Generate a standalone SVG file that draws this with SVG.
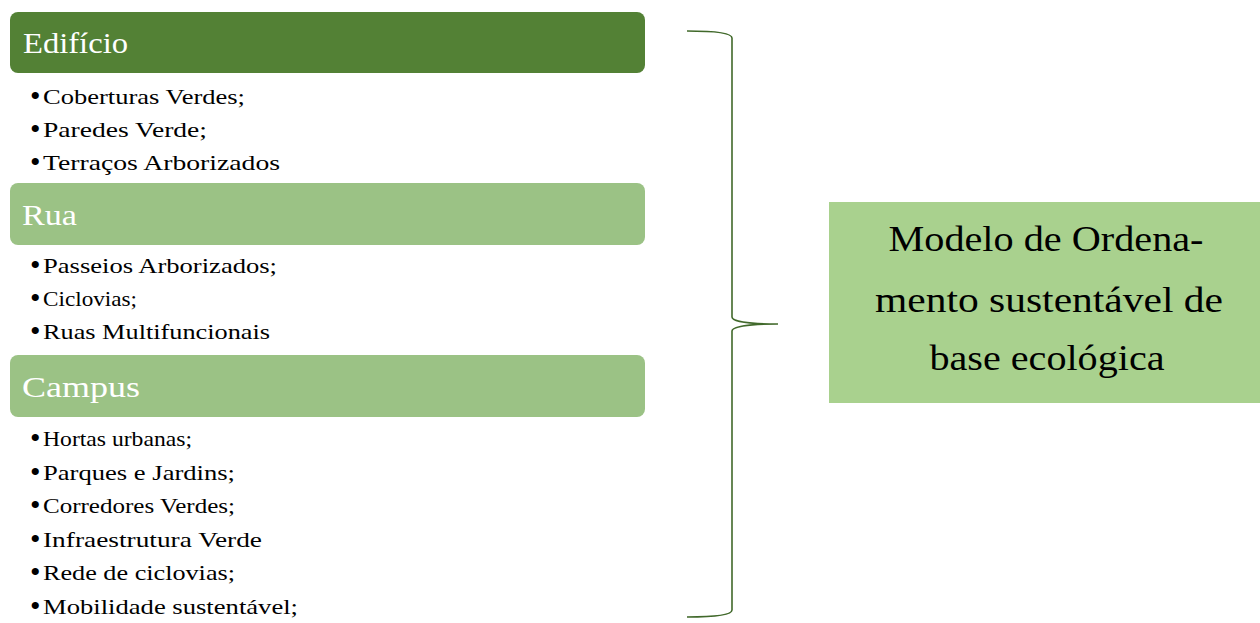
<svg xmlns="http://www.w3.org/2000/svg" width="1260" height="623" viewBox="0 0 1260 623">
<style>
.hdr{font-family:"Liberation Serif",serif;font-size:29px;fill:#ffffff}
.it{font-family:"Liberation Serif",serif;font-size:22px;fill:#000000}
.bl{font-family:"Liberation Serif",serif;font-size:30px;fill:#000000}
.big{font-family:"Liberation Serif",serif;font-size:35px;fill:#000000;text-anchor:middle}
.dark{fill:#538135}
.light{fill:#9BC285}
.brace{fill:none;stroke:#41692B;stroke-width:1.6}
</style>
<rect width="1260" height="623" fill="#ffffff"/>
<g id="edificio">
<rect class="dark" x="10" y="12" width="635" height="61" rx="8"/>
<text class="hdr" x="23" y="53" textLength="105" lengthAdjust="spacingAndGlyphs">Edifício</text>
<text class="bl" x="30" y="106">•</text><text class="it" x="43" y="104" textLength="202" lengthAdjust="spacingAndGlyphs">Coberturas Verdes;</text>
<text class="bl" x="30" y="138.5">•</text><text class="it" x="43" y="136.5" textLength="164" lengthAdjust="spacingAndGlyphs">Paredes Verde;</text>
<text class="bl" x="30" y="172">•</text><text class="it" x="43" y="170" textLength="237" lengthAdjust="spacingAndGlyphs">Terraços Arborizados</text>
</g>
<g id="rua">
<rect class="light" x="10" y="183" width="635" height="62" rx="8"/>
<text class="hdr" x="22" y="225" textLength="55" lengthAdjust="spacingAndGlyphs">Rua</text>
<text class="bl" x="30" y="275">•</text><text class="it" x="43" y="273" textLength="234" lengthAdjust="spacingAndGlyphs">Passeios Arborizados;</text>
<text class="bl" x="30" y="308">•</text><text class="it" x="43" y="306" textLength="94" lengthAdjust="spacingAndGlyphs">Ciclovias;</text>
<text class="bl" x="30" y="341">•</text><text class="it" x="43" y="339" textLength="227" lengthAdjust="spacingAndGlyphs">Ruas Multifuncionais</text>
</g>
<g id="campus">
<rect class="light" x="10" y="355" width="635" height="62" rx="8"/>
<text class="hdr" x="22" y="397" textLength="118" lengthAdjust="spacingAndGlyphs">Campus</text>
<text class="bl" x="30" y="448">•</text><text class="it" x="43" y="446" textLength="149" lengthAdjust="spacingAndGlyphs">Hortas urbanas;</text>
<text class="bl" x="30" y="481.5">•</text><text class="it" x="43" y="479.5" textLength="192" lengthAdjust="spacingAndGlyphs">Parques e Jardins;</text>
<text class="bl" x="30" y="515">•</text><text class="it" x="43" y="513" textLength="192" lengthAdjust="spacingAndGlyphs">Corredores Verdes;</text>
<text class="bl" x="30" y="548.5">•</text><text class="it" x="43" y="546.5" textLength="219" lengthAdjust="spacingAndGlyphs">Infraestrutura Verde</text>
<text class="bl" x="30" y="582">•</text><text class="it" x="43" y="580" textLength="192" lengthAdjust="spacingAndGlyphs">Rede de ciclovias;</text>
<text class="bl" x="30" y="616">•</text><text class="it" x="43" y="614" textLength="255" lengthAdjust="spacingAndGlyphs">Mobilidade sustentável;</text>
</g>
<g id="connectors">
<path class="brace" d="M687,31 C716,31 732,33 732,38 L732,317 C732,321 746,324 778,324 C746,324 732,327 732,331 L732,610 C732,615 716,617 687,617"/>
</g>
<g id="modelo">
<rect x="829" y="202" width="440" height="201" fill="#A9D18E"/>
<text class="big" x="1046" y="251" textLength="315" lengthAdjust="spacingAndGlyphs">Modelo de Ordena-</text>
<text class="big" x="1049" y="312" textLength="348" lengthAdjust="spacingAndGlyphs">mento sustentável de</text>
<text class="big" x="1047" y="370" textLength="235" lengthAdjust="spacingAndGlyphs">base ecológica</text>
</g>
</svg>
